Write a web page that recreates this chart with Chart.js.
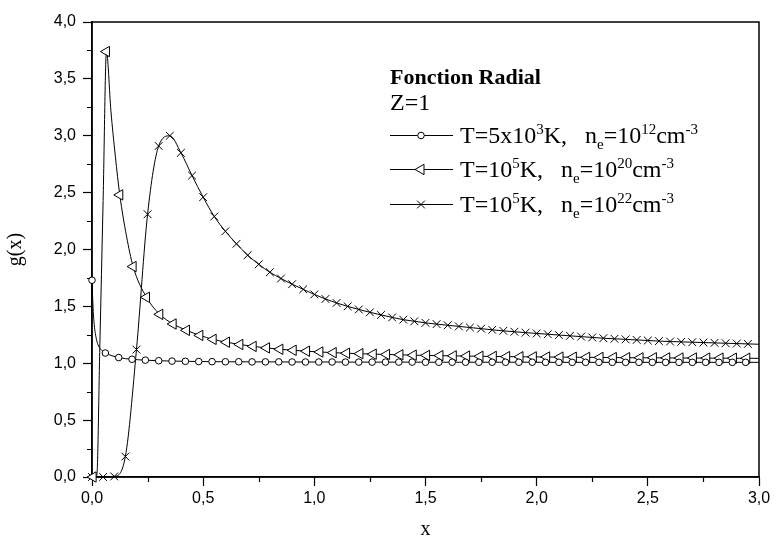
<!DOCTYPE html>
<html>
<head>
<meta charset="utf-8">
<script src="https://cdn.jsdelivr.net/npm/chart.js@4/dist/chart.umd.min.js"></script>
<style>
  html, body { margin: 0; padding: 0; background: #fff; }
  #wrap { width: 778px; height: 548px; }
</style>
</head>
<body>
<div id="wrap"><canvas id="chart" width="778" height="548"></canvas></div>
<script>
// radial function g(x), Z=1, three plasma conditions
const circX = [0, 0.005, 0.01, 0.02, 0.03, 0.045,
  0.06, 0.12, 0.18, 0.24, 0.30, 0.36, 0.42, 0.48, 0.54, 0.60,
  0.66, 0.72, 0.78, 0.84, 0.90, 0.96, 1.02, 1.08, 1.14, 1.20,
  1.26, 1.32, 1.38, 1.44, 1.50, 1.56, 1.62, 1.68, 1.74, 1.80,
  1.86, 1.92, 1.98, 2.04, 2.10, 2.16, 2.22, 2.28, 2.34, 2.40,
  2.46, 2.52, 2.58, 2.64, 2.70, 2.76, 2.82, 2.88, 2.94, 3.00];
const circY = [1.73, 1.48, 1.34, 1.21, 1.15, 1.11,
  1.09, 1.05, 1.035, 1.027, 1.022, 1.019, 1.017, 1.015, 1.014, 1.013,
  1.013, 1.012, 1.012, 1.012, 1.011, 1.011, 1.011, 1.011, 1.010, 1.010,
  1.010, 1.010, 1.010, 1.010, 1.009, 1.009, 1.009, 1.009, 1.009, 1.009,
  1.009, 1.009, 1.009, 1.008, 1.008, 1.008, 1.008, 1.008, 1.008, 1.008,
  1.008, 1.008, 1.008, 1.008, 1.008, 1.008, 1.008, 1.008, 1.008, 1.008];

const triX = [0.005, 0.015, 0.022, 0.035, 0.05, 0.065, 0.085, 0.105, 0.125, 0.155, 0.185,
  0.245, 0.305, 0.365, 0.425, 0.485, 0.545, 0.605, 0.665, 0.725, 0.785,
  0.845, 0.905, 0.965, 1.025, 1.085, 1.145, 1.205, 1.265, 1.325, 1.385,
  1.445, 1.505, 1.565, 1.625, 1.685, 1.745, 1.805, 1.865, 1.925, 1.985,
  2.045, 2.105, 2.165, 2.225, 2.285, 2.345, 2.405, 2.465, 2.525, 2.585,
  2.645, 2.705, 2.765, 2.825, 2.885, 2.945, 3.00];
const triY = [0, 0, 0.02, 1.13, 2.43, 3.74, 3.22, 2.82, 2.48, 2.12, 1.85,
  1.58, 1.43, 1.345, 1.29, 1.245, 1.21, 1.185, 1.165, 1.148, 1.135,
  1.123, 1.114, 1.106, 1.099, 1.093, 1.088, 1.084, 1.080, 1.077, 1.074,
  1.071, 1.069, 1.067, 1.065, 1.063, 1.061, 1.060, 1.058, 1.057, 1.056,
  1.055, 1.054, 1.053, 1.052, 1.051, 1.050, 1.049, 1.048, 1.048, 1.047,
  1.046, 1.046, 1.045, 1.045, 1.044, 1.044, 1.043];

const crossX = [0, 0.05, 0.10, 0.15, 0.20, 0.25, 0.30, 0.35, 0.40, 0.45,
  0.50, 0.55, 0.60, 0.65, 0.70, 0.75, 0.80, 0.85, 0.90, 0.95,
  1.00, 1.05, 1.10, 1.15, 1.20, 1.25, 1.30, 1.35, 1.40, 1.45,
  1.50, 1.55, 1.60, 1.65, 1.70, 1.75, 1.80, 1.85, 1.90, 1.95,
  2.00, 2.05, 2.10, 2.15, 2.20, 2.25, 2.30, 2.35, 2.40, 2.45,
  2.50, 2.55, 2.60, 2.65, 2.70, 2.75, 2.80, 2.85, 2.90, 2.95, 3.00];
const crossY = [0, 0, 0.005, 0.18, 1.12, 2.31, 2.91, 3.00, 2.85, 2.65,
  2.46, 2.29, 2.16, 2.05, 1.95, 1.87, 1.80, 1.745, 1.695, 1.65,
  1.605, 1.565, 1.53, 1.50, 1.473, 1.448, 1.425, 1.403, 1.383, 1.369,
  1.355, 1.344, 1.334, 1.324, 1.314, 1.304, 1.294, 1.285, 1.277, 1.269,
  1.262, 1.255, 1.248, 1.241, 1.234, 1.227, 1.220, 1.215, 1.210, 1.205,
  1.200, 1.195, 1.191, 1.188, 1.185, 1.182, 1.179, 1.176, 1.173, 1.170, 1.167];

const xTickVals = [0, 0.5, 1.0, 1.5, 2.0, 2.5, 3.0];
const yTickVals = [0, 0.5, 1.0, 1.5, 2.0, 2.5, 3.0, 3.5, 4.0];
const xMinorVals = [0.25, 0.75, 1.25, 1.75, 2.25, 2.75];
const yMinorVals = [0.25, 0.75, 1.25, 1.75, 2.25, 2.75, 3.25, 3.75];

const legendTitle = 'Fonction Radial';
const legendSub = 'Z=1';
// label pieces: [text, 'sup' | 'sub' | '']
const seriesLabels = [
  [['T=5x10', ''], ['3', 'sup'], ['K,   n', ''], ['e', 'sub'], ['=10', ''], ['12', 'sup'], ['cm', ''], ['-3', 'sup']],
  [['T=10', ''], ['5', 'sup'], ['K,   n', ''], ['e', 'sub'], ['=10', ''], ['20', 'sup'], ['cm', ''], ['-3', 'sup']],
  [['T=10', ''], ['5', 'sup'], ['K,   n', ''], ['e', 'sub'], ['=10', ''], ['22', 'sup'], ['cm', ''], ['-3', 'sup']]
];

const SERIF = '"Liberation Serif", "Times New Roman", serif';
const SANS = '"Liberation Sans", Arial, sans-serif';

function pts(xs, ys) {
  return xs.map((x, i) => ({ x: x, y: ys[i] }));
}

// Origin-style markers: only every n-th sampled x carries a symbol
function markerAt(step, offset, r) {
  return (ctx) => {
    const p = ctx.raw;
    if (!p || p.x > 2.99) return 0;
    const k = (p.x - offset) / step;
    return Math.abs(k - Math.round(k)) < 1e-6 ? r : 0;
  };
}

const styles = [
  { pointStyle: 'circle', rotation: 0, radius: 3.3, step: 0.06, offset: 0 },
  { pointStyle: 'triangle', rotation: -90, radius: 6, step: 0.06, offset: 0.005 },
  { pointStyle: 'crossRot', rotation: 0, radius: 5.5, step: 0.05, offset: 0 }
];

const seriesData = [pts(circX, circY), pts(triX, triY), pts(crossX, crossY)];

const datasets = seriesData.map((d, i) => ({
  data: d,
  borderColor: '#000',
  borderWidth: 1,
  backgroundColor: '#fff',
  pointBackgroundColor: '#fff',
  pointBorderColor: '#000',
  pointBorderWidth: 1,
  pointStyle: styles[i].pointStyle,
  pointRotation: styles[i].rotation,
  pointRadius: markerAt(styles[i].step, styles[i].offset, styles[i].radius),
  pointHoverRadius: 0,
  cubicInterpolationMode: 'monotone',
  fill: false,
  clip: false
}));

function drawRich(ctx, segs, x, y, size) {
  segs.forEach(([t, kind]) => {
    let fs = size, dy = 0;
    if (kind === 'sup') { fs = Math.round(size * 0.62); dy = -size * 0.38; }
    if (kind === 'sub') { fs = Math.round(size * 0.62); dy = size * 0.24; }
    ctx.font = fs + 'px ' + SERIF;
    ctx.fillText(t, x, y + dy);
    x += ctx.measureText(t).width;
  });
}

const framePlugin = {
  id: 'frame',
  beforeDatasetsDraw(chart) {
    const { ctx, chartArea: a, scales } = chart;
    ctx.save();
    ctx.strokeStyle = '#000';
    ctx.lineWidth = 1.5;
    ctx.strokeRect(a.left, a.top, a.right - a.left, a.bottom - a.top);
    // minor ticks
    ctx.lineWidth = 1.2;
    ctx.beginPath();
    xMinorVals.forEach(v => {
      const px = Math.round(scales.x.getPixelForValue(v)) + 0.5;
      ctx.moveTo(px, a.bottom);
      ctx.lineTo(px, a.bottom + 5);
    });
    yMinorVals.forEach(v => {
      const py = Math.round(scales.y.getPixelForValue(v)) + 0.5;
      ctx.moveTo(a.left, py);
      ctx.lineTo(a.left - 5, py);
    });
    ctx.stroke();
    ctx.restore();
  },
  afterDraw(chart) {
    const { ctx } = chart;
    ctx.save();
    ctx.fillStyle = '#000';
    ctx.textBaseline = 'alphabetic';
    ctx.font = 'bold 22px ' + SERIF;
    ctx.fillText(legendTitle, 390, 84);
    ctx.font = '24px ' + SERIF;
    ctx.fillText(legendSub, 390, 110);
    const rowY = [135, 169, 204];
    seriesLabels.forEach((segs, i) => {
      const y = rowY[i];
      ctx.strokeStyle = '#000';
      ctx.lineWidth = 1;
      ctx.beginPath();
      ctx.moveTo(390, y + 0.5);
      ctx.lineTo(453, y + 0.5);
      ctx.stroke();
      ctx.fillStyle = '#fff';
      Chart.helpers.drawPoint(ctx, {
        pointStyle: styles[i].pointStyle,
        rotation: styles[i].rotation,
        radius: styles[i].radius,
        borderWidth: 1
      }, 421, y + 0.5);
      ctx.fillStyle = '#000';
      drawRich(ctx, segs, 460, y + 8, 24);
    });
    ctx.restore();
  }
};

const fmt = v => Number(v).toFixed(1).replace('.', ',');

new Chart(document.getElementById('chart'), {
  type: 'line',
  data: { datasets: datasets },
  plugins: [framePlugin],
  options: {
    responsive: false,
    animation: false,
    devicePixelRatio: 1,
    layout: { padding: { top: 22, right: 19, left: 0, bottom: 0 } },
    plugins: { legend: { display: false }, tooltip: { enabled: false } },
    scales: {
      x: {
        type: 'linear',
        min: 0, max: 3,
        afterBuildTicks: s => { s.ticks = xTickVals.map(v => ({ value: v })); },
        afterFit: s => { s.height = 71; },
        ticks: { callback: fmt, color: '#000', font: { family: SANS, size: 16 }, padding: 3, maxRotation: 0 },
        grid: { drawOnChartArea: false, drawTicks: true, tickLength: 9, tickColor: '#000', tickWidth: 1.2 },
        border: { display: true, color: '#000', width: 1.5 },
        title: { display: true, text: 'x', color: '#000', font: { family: SERIF, size: 20 }, padding: { top: 4, bottom: 6 } }
      },
      y: {
        min: 0, max: 4,
        afterBuildTicks: s => { s.ticks = yTickVals.map(v => ({ value: v })); },
        afterFit: s => { s.width = 92; },
        ticks: { callback: fmt, color: '#000', font: { family: SANS, size: 16 }, padding: 7 },
        grid: { drawOnChartArea: false, drawTicks: true, tickLength: 9, tickColor: '#000', tickWidth: 1.2 },
        border: { display: true, color: '#000', width: 1.5 },
        title: { display: true, text: 'g(x)', color: '#000', font: { family: SERIF, size: 20 }, padding: { top: 4, bottom: 6 } }
      }
    }
  }
});
</script>
</body>
</html>
